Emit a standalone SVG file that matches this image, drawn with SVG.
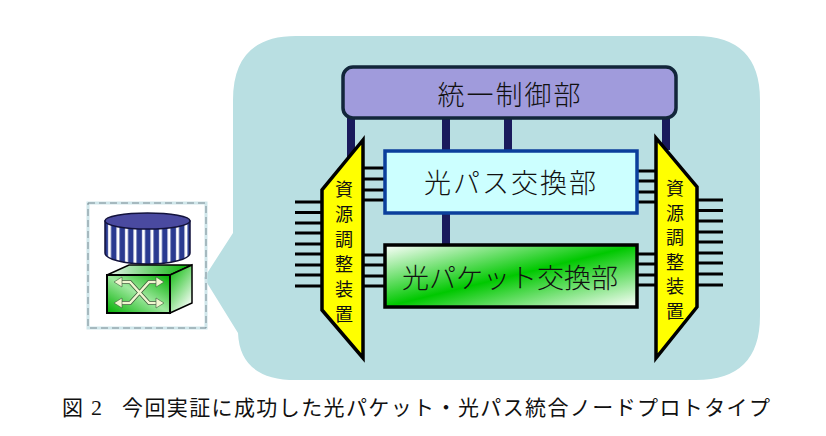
<svg xmlns="http://www.w3.org/2000/svg" width="826" height="436" viewBox="0 0 826 436">
<style>
text{font-family:"Noto Sans CJK JP","Noto Sans CJK SC",sans-serif;fill:#111}
.l{stroke:#000;stroke-width:3;fill:none}
.b{stroke:#1a1a5c;stroke-width:8;fill:none}
.y{fill:#ffff00;stroke:#000;stroke-width:3.500;stroke-linejoin:miter}
.lab{font-size:27px;font-weight:300;text-anchor:middle}
.v{font-size:18px;text-anchor:middle}
.cap{font-size:21px;font-weight:400}
</style>
<defs>
<linearGradient id="gp" x1="0" y1="0" x2="1" y2="1"><stop offset="0" stop-color="#fff"/><stop offset=".5" stop-color="#00c800"/><stop offset="1" stop-color="#fff"/></linearGradient>
<linearGradient id="gf" x1="0" y1="1" x2="1" y2="0"><stop offset="0" stop-color="#00b000"/><stop offset=".5" stop-color="#9fe89f"/><stop offset="1" stop-color="#00b000"/></linearGradient>
<linearGradient id="gs" x1="0" y1="0" x2="0.6" y2="1"><stop offset="0" stop-color="#00b800"/><stop offset="1" stop-color="#f0fbf0"/></linearGradient>
<linearGradient id="gt" x1="0" y1="0" x2="1" y2="0"><stop offset="0" stop-color="#e8f6ee"/><stop offset="1" stop-color="#00b000"/></linearGradient>
<pattern id="st" width="8.500" height="60" patternUnits="userSpaceOnUse" x="105"><rect width="8.500" height="60" fill="#2a3a90"/><rect x="3" width="3" height="60" fill="#fff"/></pattern>
</defs>
<rect width="826" height="436" fill="#fff"/>
<path id="bubble" d="M296 36H696Q760 36 760 100V316Q760 380 696 380H296Q240 380 238 333L204 278L233 233V100Q233 36 296 36Z" fill="#b9dfe2"/>
<g id="connectors">
<path class="b" d="M351 118V160M446 118V245M508 118V150M666 118V150"/>
<path class="l" d="M295 202H321M295 212.500H321M295 223H321M295 233H321M295 244H321M295 254H321M295 265H321M295 275H321M295 286H321"/>
<path class="l" d="M363 168H385M363 179H385M363 190H385M363 200H385M363 255H385M363 265H385M363 276H385M363 286H385"/>
<path class="l" d="M636 171H656M636 181H656M636 192H656M636 202H656M636 254H656M636 264H656M636 275H656M636 285H656"/>
<path class="l" d="M698 200H723M698 210.500H723M698 221H723M698 232H723M698 242H723M698 253H723M698 263H723M698 274H723M698 285H723"/>
</g>
<g id="control"><rect x="343" y="67" width="333" height="51" rx="10" fill="#a09bdc" stroke="#12263a" stroke-width="3.500"/><text class="lab" x="510" y="105" letter-spacing="2">統一制御部</text></g>
<g id="path-switch"><rect x="385" y="151" width="252" height="62" fill="#ccffff" stroke="#0b3f9c" stroke-width="3.500"/><text class="lab" x="511" y="193" letter-spacing="2">光パス交換部</text></g>
<g id="packet-switch"><rect x="385" y="245" width="252" height="62" fill="url(#gp)" stroke="#000" stroke-width="3.500"/><text class="lab" x="510" y="288">光パケット交換部</text></g>
<g id="left-adjust"><path class="y" d="M363 140L322 190V310L363 358Z"/>
<text class="v" x="344" y="196">資</text><text class="v" x="344" y="221">源</text><text class="v" x="344" y="246">調</text><text class="v" x="344" y="271">整</text><text class="v" x="344" y="296">装</text><text class="v" x="344" y="321">置</text></g>
<g id="right-adjust"><path class="y" d="M656 138L697 187V307L656 358Z"/>
<text class="v" x="675" y="195">資</text><text class="v" x="675" y="219.500">源</text><text class="v" x="675" y="244">調</text><text class="v" x="675" y="268.500">整</text><text class="v" x="675" y="293">装</text><text class="v" x="675" y="317.500">置</text></g>
<g id="node-icon">
<rect x="88" y="203" width="118" height="125" fill="none" stroke="#cfe6ea" stroke-width="3"/>
<rect x="88" y="203" width="118" height="125" fill="none" stroke="#7d8c94" stroke-width="1" stroke-dasharray="7 4"/>
<path d="M105 221V253A42.500 11 0 0 0 190 253V221Z" fill="url(#st)" stroke="#12123c" stroke-width="1.500"/>
<ellipse cx="147.500" cy="221" rx="42.500" ry="8" fill="#4a4aa0" stroke="#12123c" stroke-width="1.500"/>
<path d="M107 275L129 265H192L170 275Z" fill="url(#gt)" stroke="#000" stroke-width="1.500"/>
<path d="M170 275L192 265V303L170 313Z" fill="url(#gs)" stroke="#000" stroke-width="1.500"/>
<rect x="107" y="275" width="63" height="38" fill="url(#gf)" stroke="#000" stroke-width="2"/>
<path d="M120 282H130L149 303H158M120 303H130L149 282H158" fill="none" stroke="#3a5a3a" stroke-width="4"/>
<path d="M120 282H130L149 303H158M120 303H130L149 282H158" fill="none" stroke="#f0f6d0" stroke-width="2.500"/>
<path d="M122 277L114 282L122 287ZM122 298L114 303L122 308ZM156 277L164 282L156 287ZM156 298L164 303L156 308Z" fill="#f0f6d0" stroke="#3a5a3a" stroke-width=".6"/>
</g>
<g id="caption"><text class="cap" x="62" y="415">図</text><text x="91" y="415" style="font-family:'Liberation Serif',serif;font-size:22px">2</text><text class="cap" x="122" y="415" textLength="648" lengthAdjust="spacing">今回実証に成功した光パケット・光パス統合ノードプロトタイプ</text></g>
</svg>
